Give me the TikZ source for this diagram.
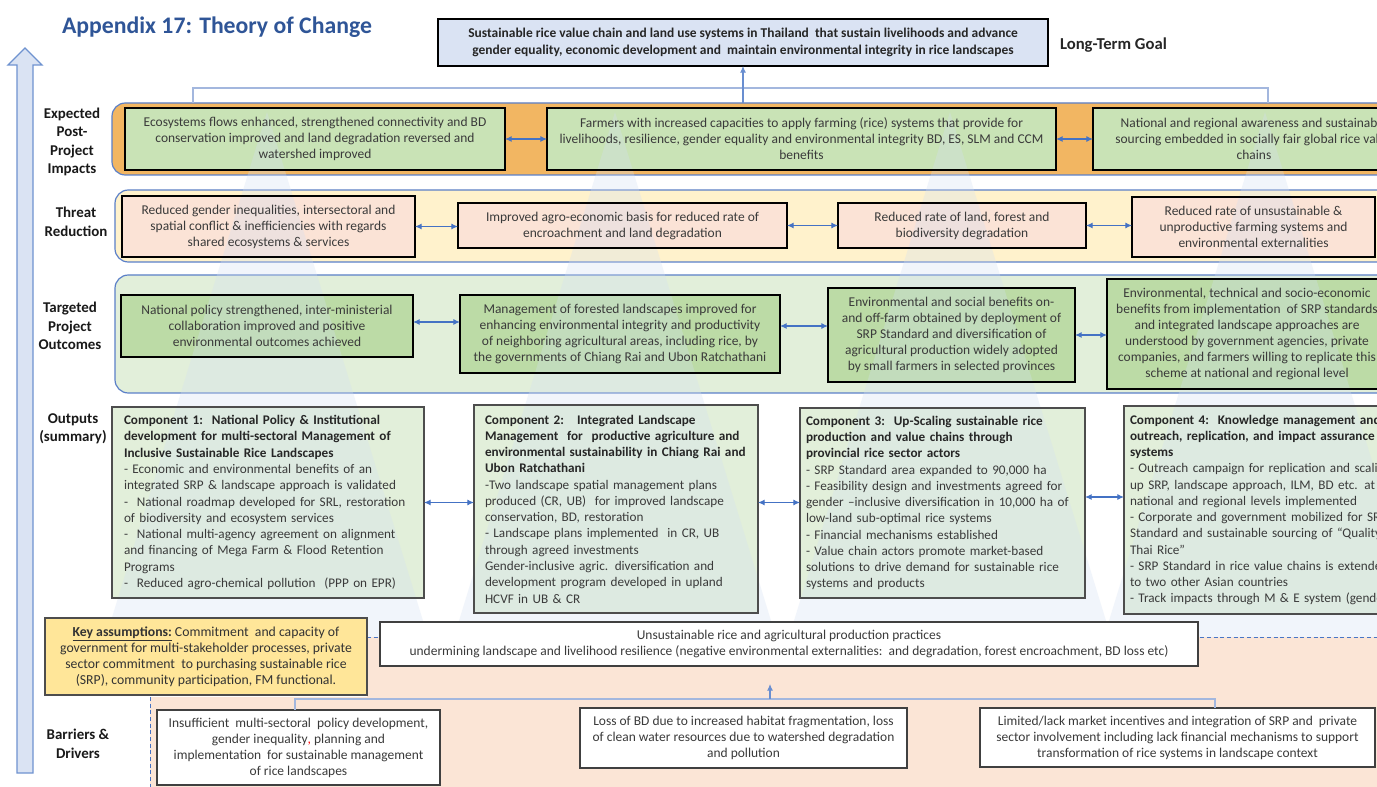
\documentclass[tikz,border=0pt]{standalone}
\usepackage{fontspec}
\setmainfont{Carlito}
\usetikzlibrary{arrows.meta}
\definecolor{goalfill}{HTML}{DAE3F3}
\definecolor{orangeband}{HTML}{F2B662}
\definecolor{impfill}{HTML}{C9E3B6}
\definecolor{yelband}{HTML}{FFF2CC}
\definecolor{thrfill}{HTML}{FBE3D6}
\definecolor{grnband}{HTML}{E2EFDA}
\definecolor{outfill}{HTML}{BCDBA6}
\definecolor{compfill}{HTML}{E2EFDA}
\definecolor{peach}{HTML}{FBE5D6}
\definecolor{keyfill}{HTML}{FFE699}
\definecolor{bandline}{HTML}{5B80C8}
\definecolor{arrblue}{HTML}{4472C4}
\definecolor{txt}{HTML}{3A3A3A}
\definecolor{titleblue}{HTML}{2F5597}
\definecolor{trifill}{HTML}{D3DFF2}
\definecolor{brk}{HTML}{A3B7DE}
\definecolor{compline}{HTML}{4D4D4D}
\definecolor{bigarrow}{HTML}{6F93D0}
\pgfdeclarelayer{bottom}
\pgfdeclarelayer{background}
\pgfdeclarelayer{mid}
\pgfsetlayers{bottom,background,mid,main}
\newcommand\mkbox[7]{%
  \pgfmathsetmacro\myBW{(#4-#2)*0.75}%
  \pgfmathsetmacro\myBH{(#5-#3)*0.75}%
  \node[#6, minimum width=\myBW pt, minimum height=\myBH pt] (#1) at ({(#2+#4)/2},{(#3+#5)/2}) {#7};}
\newcommand\mkcomp[7]{%
  \pgfmathsetmacro\myBW{(#4-#2)*0.75}%
  \pgfmathsetmacro\myBH{(#5-#3)*0.75}%
  \pgfmathsetmacro\myTW{(#4-#2-2*#6)*0.75}%
  \pgfmathsetmacro\myPD{#6*0.75}%
  \node[compbox, inner xsep=\myPD pt, text width=\myTW pt, minimum width=\myBW pt, minimum height=\myBH pt] (#1) at ({(#2+#4)/2},{(#3+#5)/2}) {#7};}
\newcommand\comphead[1]{\mbox{\textbf{\textcolor{black!85}{#1}}}}
\newcommand\compln[1]{\mbox{#1}}
\begin{document}
\begin{tikzpicture}[x=0.75pt,y=-0.75pt,
  every node/.style={inner sep=0pt, outer sep=0pt},
  font={\fontsize{10.1}{12}\selectfont},
  band/.style={draw=bandline, line width=0.9pt, rounded corners=10pt},
  impbox/.style={draw=black, line width=2pt, align=center, text=txt},
  compbox/.style={draw=compline, line width=0.9pt, align=left, text=txt, font={\fontsize{9.9}{12.2}\selectfont}},
  whitebox/.style={draw=black!75, line width=1.2pt, fill=white, align=center, text=txt},
  keybox/.style={draw=compline, line width=1pt, fill=keyfill, align=center, text=black!80, font={\fontsize{10.3}{12}\selectfont}},
  goalbox/.style={draw=black, line width=2pt, fill=goalfill, align=center, text=black!85, font={\fontsize{10.1}{12.5}\selectfont\bfseries}},
  lab/.style={align=center, text=black!90, font={\fontsize{11.2}{13.8}\selectfont\bfseries}},
  dbl/.style={draw=arrblue, line width=0.8pt, {Latex[length=5pt,width=4.5pt]}-{Latex[length=5pt,width=4.5pt]}},
  uparr/.style={draw=arrblue!80, line width=0.8pt, -{Latex[length=5pt,width=4.5pt]}},
  bracket/.style={draw=brk, line width=0.8pt},
  sep/.style={draw=arrblue, line width=0.7pt, dash pattern=on 3pt off 2pt}
]
\useasboundingbox (0,0) rectangle (1377,787);

\begin{pgfonlayer}{bottom}
\fill[white] (0,0) rectangle (1377,787);
% big upward arrow on the left
\draw[fill=goalfill, draw=bigarrow, line width=1pt] (17,773) -- (17,65) -- (8,65) -- (25,48) -- (42,65) -- (33,65) -- (33,773) -- cycle;
% bands
\mkbox{band1}{112}{103}{1420}{175}{band, fill=orangeband}{}
\mkbox{band2}{115}{190}{1420}{262}{band, fill=yelband}{}
\mkbox{band3}{115}{275}{1420}{393}{band, fill=grnband}{}
% barriers region
\fill[peach] (367,637) -- (1420,637) -- (1420,790) -- (150,790) -- (150,697) -- (367,697) -- cycle;
\draw[sep] (150,697) -- (150,787);
\draw[sep] (367,637) -- (1377,637);
\end{pgfonlayer}

% title and goal
\node[font={\fontsize{17.8}{21}\selectfont\bfseries}, text=titleblue] (title) at (217,27) {Appendix 17: Theory of Change};
\mkbox{goal}{438}{19}{1048}{66}{goalbox}{Sustainable rice value chain and land use systems in Thailand\ \ that sustain livelihoods and advance\\gender equality, economic development and\ \ maintain environmental integrity in rice landscapes}
\node[font={\fontsize{12.5}{15}\selectfont\bfseries}, text=black!85, anchor=west] (ltg) at (1060,45) {Long-Term Goal};

% row labels
\node[lab] (l1) at (72,142) {Expected\\Post-\\Project\\Impacts};
\node[lab] (l2) at (76,222) {Threat\\Reduction};
\node[lab] (l3) at (70,326) {Targeted\\Project\\Outcomes};
\node[lab] (l4) at (73,429) {Outputs\\(summary)};
\node[lab] (l5) at (78,744) {Barriers \&\\Drivers};

% impacts
\mkbox{i1}{125}{108}{505}{170}{impbox}{Ecosystems flows enhanced, strengthened connectivity and BD\\conservation improved and land degradation reversed and\\watershed improved}
\mkbox{i2}{547}{108}{1056}{170}{impbox}{Farmers with increased capacities to apply farming (rice) systems that provide for\\livelihoods, resilience, gender equality and environmental integrity BD, ES, SLM and CCM\\benefits}
\mkbox{i3}{1093}{108}{1415}{170}{impbox}{National and regional awareness and sustainable\\sourcing embedded in socially fair global rice value\\chains}

% threat reduction
\mkbox{t1}{122}{196}{415}{257}{impbox}{Reduced gender inequalities, intersectoral and\\spatial conflict \& inefficiencies with regards\\shared ecosystems \& services}
\mkbox{t2}{458}{203}{787}{248}{impbox}{Improved agro-economic basis for reduced rate of\\encroachment and land degradation}
\mkbox{t3}{838}{203}{1086}{248}{impbox}{Reduced rate of land, forest and\\biodiversity degradation}
\mkbox{t4}{1132}{197}{1375}{257}{impbox}{Reduced rate of unsustainable \&\\unproductive farming systems and\\environmental externalities}

% outcomes
\mkbox{o1}{121}{295}{413}{357}{impbox}{National policy strengthened, inter-ministerial\\collaboration improved and positive\\environmental outcomes achieved}
\mkbox{o2}{460}{295}{780}{373}{impbox}{Management of forested landscapes improved for\\enhancing environmental integrity and productivity\\of neighboring agricultural areas, including rice, by\\the governments of Chiang Rai and Ubon Ratchathani}
\mkbox{o3}{828}{288}{1075}{382}{impbox}{Environmental and social benefits on-\\and off-farm obtained by deployment of\\SRP Standard and diversification of\\agricultural production widely adopted\\by small farmers in selected provinces}
\mkbox{o4}{1107}{279}{1387}{389}{impbox}{Environmental, technical and socio-economic\\benefits from implementation\ \ of SRP standards\\and integrated landscape approaches are\\understood by government agencies, private\\companies, and farmers willing to replicate this\\scheme at national and regional level}

% outputs
\mkcomp{c1}{112}{407}{424}{598}{12}{\comphead{Component 1:\ \ National Policy \& Institutional}\\\comphead{development for multi-sectoral Management of}\\\comphead{Inclusive Sustainable Rice Landscapes}\\\compln{- Economic and environmental benefits of an}\\\compln{integrated SRP \& landscape approach is validated}\\\compln{-\ \ National roadmap developed for SRL, restoration}\\\compln{of biodiversity and ecosystem services}\\\compln{-\ \ National multi-agency agreement on alignment}\\\compln{and financing of Mega Farm \& Flood Retention}\\\compln{Programs}\\\compln{-\ \ Reduced agro-chemical pollution\ \ (PPP on EPR)}}
\mkcomp{c2}{474}{405}{758}{613}{11}{\comphead{Component 2:\ \ \ Integrated Landscape}\\\comphead{Management\ \ for\ \ productive agriculture and}\\\comphead{environmental sustainability in Chiang Rai and}\\\comphead{Ubon Ratchathani}\\\compln{-Two landscape spatial management plans}\\\compln{produced (CR, UB)\ \ for improved landscape}\\\compln{conservation, BD, restoration}\\\compln{- Landscape plans implemented\ \ in CR, UB}\\\compln{through agreed investments}\\\compln{Gender-inclusive agric. diversification and}\\\compln{development program developed in upland}\\\compln{HCVF in UB \& CR}}
\mkcomp{c3}{800}{408}{1085}{598}{6}{\comphead{Component 3:\ \ Up-Scaling sustainable rice}\\\comphead{production and value chains through}\\\comphead{provincial rice sector actors}\\\compln{- SRP Standard area expanded to 90,000 ha}\\\compln{- Feasibility design and investments agreed for}\\\compln{gender --inclusive diversification in 10,000 ha of}\\\compln{low-land sub-optimal rice systems}\\\compln{- Financial mechanisms established}\\\compln{- Value chain actors promote market-based}\\\compln{solutions to drive demand for sustainable rice}\\\compln{systems and products}}
\mkcomp{c4}{1124}{406}{1420}{614}{6}{\comphead{Component 4:\ \ Knowledge management and}\\\comphead{outreach, replication, and impact assurance}\\\comphead{systems}\\\compln{- Outreach campaign for replication and scaling}\\\compln{up SRP, landscape approach, ILM, BD etc. at}\\\compln{national and regional levels implemented}\\\compln{- Corporate and government mobilized for SRP}\\\compln{Standard and sustainable sourcing of “Quality}\\\compln{Thai Rice”}\\\compln{- SRP Standard in rice value chains is extended}\\\compln{to two other Asian countries}\\\compln{- Track impacts through M \& E system (gender}}

% fills of the boxes (under the pale triangles)
\begin{pgfonlayer}{background}
\foreach \n/\c in {i1/impfill,i2/impfill,i3/impfill,t1/thrfill,t2/thrfill,t3/thrfill,t4/thrfill,o1/outfill,o2/outfill,o3/outfill,o4/outfill,c1/compfill,c2/compfill,c3/compfill,c4/compfill}
  \fill[\c] (\n.south west) rectangle (\n.north east);
\end{pgfonlayer}

% pale upward triangles
\begin{pgfonlayer}{mid}
\foreach \cx in {267,615,950,1265}
  \fill[trifill, opacity=0.3] (\cx,112) -- (\cx+161,637) -- (\cx-161,637) -- cycle;
\end{pgfonlayer}

% connectors between boxes
\draw[dbl] (i1.east) -- (i2.west);
\draw[dbl] (i2.east) -- (i3.west);
\draw[dbl] (t1.east) -- (t1.east -| t2.west);
\draw[dbl] (t2.east) -- (t3.west);
\draw[dbl] (t3.east) -- (t3.east -| t4.west);
\coordinate (a12) at ([yshift=3pt]o1.east);
\draw[dbl] (a12) -- (a12 -| o2.west);
\coordinate (a23) at ([yshift=6pt]o2.east);
\draw[dbl] (a23) -- (a23 -| o3.west);
\draw[dbl] (o3.east) -- (o3.east -| o4.west);
\draw[dbl] (c1.east) -- (c1.east -| c2.west);
\coordinate (b23) at (c1.east -| c2.east);
\draw[dbl] (b23) -- (b23 -| c3.west);
\coordinate (b34) at ([yshift=4.5pt]c3.east);
\draw[dbl] (b34) -- (b34 -| c4.west);

% top bracket to the goal
\coordinate (tbL) at (193,88);
\coordinate (tbR) at (1268,88);
\draw[bracket] (band1.north -| tbL) -- (tbL) -- (tbR) -- (band1.north -| tbR);
\draw[uparr] (band1.north -| goal.south) -- (goal.south);

% barriers section
\mkbox{key}{45}{618}{367}{695}{keybox}{\underline{\textbf{Key assumptions:}}\ Commitment\ \ and capacity of\\government for multi-stakeholder processes, private\\sector commitment\ \ to purchasing sustainable rice\\(SRP), community participation, FM functional.}
\mkbox{uns}{380}{622}{1198}{666}{whitebox}{Unsustainable rice and agricultural production practices\\undermining landscape and livelihood resilience (negative environmental externalities:\ \ and degradation, forest encroachment, BD loss etc)}
\mkbox{b1}{157}{710}{440}{785}{whitebox}{Insufficient\ \ multi-sectoral\ \ policy development,\\gender inequality{\color{red},} planning and\\implementation\ \ for sustainable management\\of rice landscapes}
\mkbox{b2}{580}{708}{907}{768}{whitebox}{Loss of BD due to increased habitat fragmentation, loss\\of clean water resources due to watershed degradation\\and pollution}
\mkbox{b3}{980}{708}{1375}{767}{whitebox}{Limited/lack market incentives and integration of SRP and\ \ private\\sector involvement including lack financial mechanisms to support\\transformation of rice systems in landscape context}

\coordinate (bbL) at (295,699);
\coordinate (bbR) at (1215,699);
\draw[bracket] (b1.north -| bbL) -- (bbL) -- (bbR) -- (b3.north -| bbR);
\coordinate (bbM) at (770,699);
\coordinate (bbT) at (770,684);
\draw[uparr] (bbM) -- (bbT);
\end{tikzpicture}
\end{document}
